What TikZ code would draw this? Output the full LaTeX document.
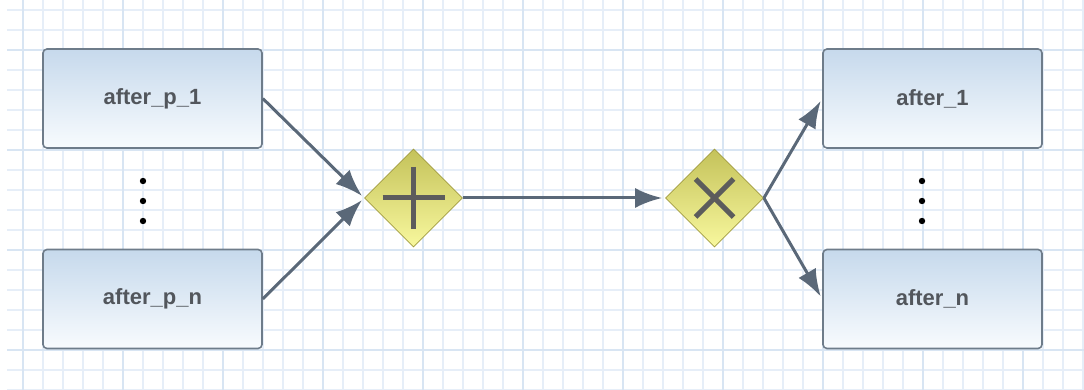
\documentclass[tikz,border=0pt]{standalone}
\usepackage{fontspec}
\setmainfont{Liberation Sans}
\usepackage{tikz}
\usetikzlibrary{shapes.geometric,arrows.meta,calc}
\usepackage{xcolor}

\definecolor{gridthin}{HTML}{E6EEF8}
\definecolor{gridbold}{HTML}{D8E5F3}
\definecolor{taskline}{HTML}{6E7C8A}
\definecolor{tasktop}{HTML}{C6D9EC}
\definecolor{taskbottom}{HTML}{F8FBFE}
\definecolor{gatetop}{HTML}{C4C25A}
\definecolor{gatebottom}{HTML}{F8F89E}
\definecolor{gateline}{HTML}{A29C40}
\definecolor{signgray}{HTML}{5C5C5C}
\definecolor{flow}{HTML}{5A6878}
\definecolor{labelgray}{HTML}{52565C}

\begin{document}
\begin{tikzpicture}[x=1pt, y=-1pt,
    task/.style={draw=taskline, line width=1.6pt, rounded corners=4pt,
      top color=tasktop, bottom color=taskbottom, minimum width=219pt,
      minimum height=99pt, inner sep=0pt, text=labelgray,
      font=\fontsize{22}{25}\selectfont\bfseries},
    gate/.style={diamond, draw=gateline, line width=0.8pt, top color=gatetop,
      bottom color=gatebottom, minimum width=98pt, minimum height=98pt,
      inner sep=0pt},
    sign/.style={signgray, line width=5pt},
    flowline/.style={flow, line width=3pt, shorten >=3pt,
      -{Latex[length=27pt, width=20pt]}}]
  \useasboundingbox (0,0) rectangle (1084,390);

  % Draw background grid
  \foreach \x in {23,43,...,1083}
    \draw[gridthin, line width=1.3pt] (\x,0) -- (\x,390);
  \foreach \y in {10,30,...,390}
    \draw[gridthin, line width=1.3pt] (7,\y) -- (1084,\y);
  \foreach \x in {23,123,...,1083}
    \draw[gridbold, line width=1.6pt] (\x,0) -- (\x,390);
  \foreach \y in {50,150,...,350}
    \draw[gridbold, line width=1.6pt] (7,\y) -- (1084,\y);

  % Draw tasks
  \node[task] (afterp1) at (152.5,98.5) {after\_p\_1};
  \node[task] (afterpn) at (152.5,299) {after\_p\_n};
  \node[task] (after1) at (932.5,98.5) {after\_1};
  \node[task] (aftern) at (932.5,299) {after\_n};

  % Draw gateways
  \node[gate] (andgate) at (413.5,198) {};
  \node[gate] (xorgate) at (714.5,198) {};
  \draw[sign] ($(andgate.center)+(-31,0)$) -- ($(andgate.center)+(31,0)$);
  \draw[sign] ($(andgate.center)+(0,-31)$) -- ($(andgate.center)+(0,31)$);
  \draw[sign] ($(xorgate.center)+(-19,-19)$) -- ($(xorgate.center)+(19,19)$);
  \draw[sign] ($(xorgate.center)+(-19,19)$) -- ($(xorgate.center)+(19,-19)$);

  % Draw vertical dots
  \foreach \y in {181,201,221} {
    \fill (143,\y) circle (3.2pt);
    \fill (922,\y) circle (3.2pt);
  }

  % Draw sequence flows
  \draw[flowline] (afterp1.east) -- (andgate.west);
  \draw[flowline] (afterpn.east) -- (andgate.west);
  \draw[flowline] (andgate.east) -- (xorgate.west);
  \draw[flowline] (xorgate.east) -- (after1.west);
  \draw[flowline] (xorgate.east) -- (aftern.west);
\end{tikzpicture}
\end{document}
